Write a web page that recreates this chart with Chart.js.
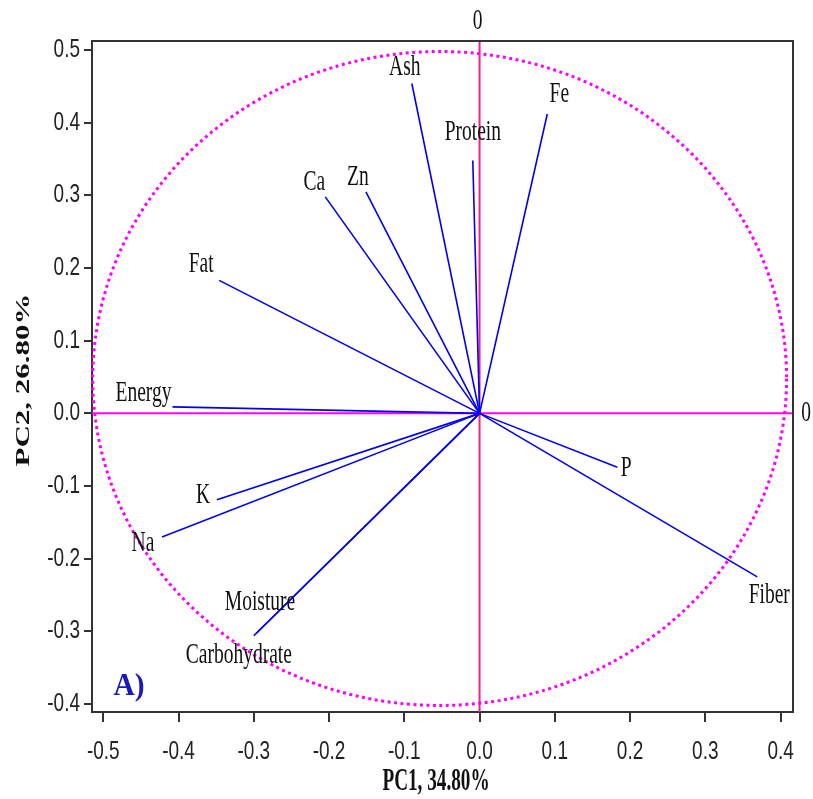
<!DOCTYPE html>
<html>
<head>
<meta charset="utf-8">
<script src="https://cdn.jsdelivr.net/npm/chart.js@4/dist/chart.umd.min.js"></script>
<style>
html,body{margin:0;padding:0;background:#fff;}
canvas{display:block;}
</style>
</head>
<body>
<canvas id="c" width="813" height="799"></canvas>
<script>
// ---- data ----
const variables = ['Ash','Protein','Fe','Ca','Zn','Fat','Energy','K','Na','Moisture','Carbohydrate','P','Fiber'];
const pc1 = [-0.090,-0.009,0.090,-0.205,-0.151,-0.346,-0.408,-0.349,-0.422,-0.297,-0.300,0.183,0.369];
const pc2 = [0.454,0.348,0.412,0.298,0.305,0.183,0.009,-0.119,-0.170,-0.303,-0.306,-0.074,-0.225];
const xTicks = [-0.5,-0.4,-0.3,-0.2,-0.1,0.0,0.1,0.2,0.3,0.4];
const yTicks = [-0.4,-0.3,-0.2,-0.1,0.0,0.1,0.2,0.3,0.4,0.5];
const circleCenter = [-0.053, 0.048];
const circleRadius = [0.461, 0.450];
const xTitle = 'PC1, 34.80%';
const yTitle = 'PC2, 26.80%';
const panelLabel = 'A)';

// ---- label placement (pixel offsets from vector tips) ----
const labelOffsets = [[-7,-16],[0,-28],[12,-20],[-11,-15],[-8,-15],[-18,-16],[-29,-14],[-14,-5],[-19,6],[4,-31],[-15,19],[9,1],[12,18]];

const datasets = variables.map((v,i)=>({
  label: v,
  data: [{x:0,y:0},{x:pc1[i],y:pc2[i]}],
  showLine: true,
  borderColor: '#0000f0',
  borderWidth: 1.6,
  pointRadius: 0,
  fill: false
}));

function squeezeText(ctx, text, x, y, font, sx, color, align){
  ctx.save();
  ctx.font = font;
  ctx.fillStyle = color;
  ctx.textAlign = align || 'center';
  ctx.textBaseline = 'middle';
  ctx.translate(x,y);
  ctx.scale(sx,1);
  ctx.fillText(text,0,0);
  ctx.restore();
}

const tickFontCss = '25px "Liberation Sans", Arial, sans-serif';
const tickSqueeze = 0.76;

const overlay = {
  id:'overlay',
  beforeDatasetsDraw(chart){
    const {ctx, chartArea:a, scales:{x,y}} = chart;
    ctx.save();
    // reference lines
    ctx.lineWidth = 2;
    ctx.strokeStyle = '#ff00ff';
    const y0 = y.getPixelForValue(0);
    ctx.beginPath(); ctx.moveTo(a.left,y0); ctx.lineTo(a.right,y0); ctx.stroke();
    ctx.strokeStyle = '#ff1a8c';
    const x0 = x.getPixelForValue(0);
    ctx.beginPath(); ctx.moveTo(x0,a.top); ctx.lineTo(x0,a.bottom); ctx.stroke();
    // circle
    const cx = x.getPixelForValue(circleCenter[0]);
    const cy = y.getPixelForValue(circleCenter[1]);
    const rx = Math.abs(x.getPixelForValue(circleCenter[0]+circleRadius[0]) - cx);
    const ry = Math.abs(y.getPixelForValue(circleCenter[1]+circleRadius[1]) - cy);
    ctx.strokeStyle = '#ff00ff';
    ctx.lineWidth = 3;
    ctx.setLineDash([3,3.5]);
    ctx.beginPath(); ctx.ellipse(cx,cy,rx,ry,0,0,Math.PI*2); ctx.stroke();
    ctx.restore();
  },
  afterDatasetsDraw(chart){
    const {ctx, chartArea:a, scales:{x,y}} = chart;
    // frame top/right
    ctx.save();
    ctx.strokeStyle = '#333';
    ctx.lineWidth = 2;
    ctx.beginPath();
    ctx.moveTo(a.left,a.top); ctx.lineTo(a.right,a.top); ctx.lineTo(a.right,a.bottom);
    ctx.stroke();
    ctx.restore();
    // tick labels (condensed, as in the source figure)
    x.ticks.forEach(t=>{
      squeezeText(ctx, t.value.toFixed(1), x.getPixelForValue(t.value), 752, tickFontCss, tickSqueeze, '#222');
    });
    y.ticks.forEach(t=>{
      squeezeText(ctx, t.value.toFixed(1), 80, y.getPixelForValue(t.value), tickFontCss, tickSqueeze, '#222', 'right');
    });
    // variable labels
    variables.forEach((v,i)=>{
      const px = x.getPixelForValue(pc1[i]) + labelOffsets[i][0];
      const py = y.getPixelForValue(pc2[i]) + labelOffsets[i][1];
      squeezeText(ctx, v, px, py, '30px "Liberation Serif", "Times New Roman", serif', 0.65, '#111');
    });
    // zero markers outside
    squeezeText(ctx,'0', x.getPixelForValue(0)-2, 21, '30px "Liberation Serif", serif', 0.65, '#111');
    squeezeText(ctx,'0', 806, y.getPixelForValue(0), '30px "Liberation Serif", serif', 0.65, '#111');
    // panel label
    squeezeText(ctx, panelLabel, 129, 687, 'bold 31px "Liberation Serif", serif', 0.95, '#1a1ab8');
    // axis titles
    squeezeText(ctx, xTitle, 436, 782, 'bold 32px "Liberation Serif", serif', 0.6, '#111');
    ctx.save();
    ctx.font = 'bold 31px "Liberation Serif", serif';
    ctx.fillStyle = '#111';
    ctx.textAlign = 'center';
    ctx.textBaseline = 'middle';
    ctx.translate(24,380);
    ctx.scale(0.62,1);
    ctx.rotate(-Math.PI/2);
    ctx.fillText(yTitle,0,0);
    ctx.restore();
  }
};

new Chart(document.getElementById('c'), {
  type: 'scatter',
  data: { datasets },
  options: {
    responsive: false,
    devicePixelRatio: 1,
    animation: false,
    layout: { padding: { top: 41, right: 20, left: 0, bottom: 0 } },
    plugins: { legend: {display:false}, tooltip: {enabled:false} },
    scales: {
      x: {
        type:'linear', min:-0.515, max:0.4165,
        afterBuildTicks: s => { s.ticks = xTicks.map(v=>({value:v})); },
        afterFit: s => { s.height = 87; },
        grid: { display:true, drawOnChartArea:false, drawTicks:true, tickLength:10, color:'#333', lineWidth:2 },
        border: { display:true, color:'#333', width:2 },
        ticks: { display:false, autoSkip:false }
      },
      y: {
        type:'linear', min:-0.411, max:0.5125,
        afterBuildTicks: s => { s.ticks = yTicks.map(v=>({value:v})); },
        afterFit: s => { s.width = 92; },
        grid: { display:true, drawOnChartArea:false, drawTicks:true, tickLength:8, color:'#333', lineWidth:2 },
        border: { display:true, color:'#333', width:2 },
        ticks: { display:false, autoSkip:false }
      }
    }
  },
  plugins: [overlay]
});
</script>
</body>
</html>
